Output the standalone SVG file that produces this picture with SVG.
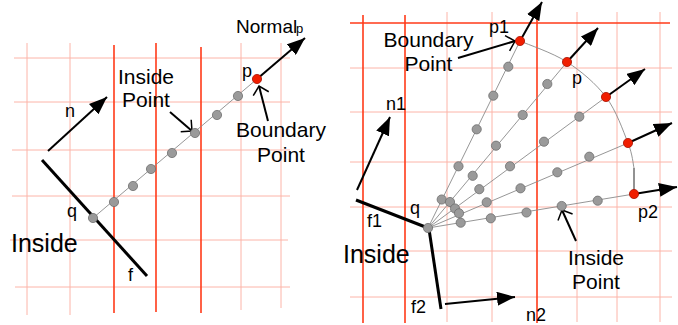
<svg xmlns="http://www.w3.org/2000/svg" width="678" height="325" viewBox="0 0 678 325">
<style>
.thin{stroke:#fcb4a8;stroke-width:1;fill:none}
.thick{stroke:#ff3b1a;stroke-width:1.6;fill:none}
.ray{stroke:#8a8a8a;stroke-width:0.9;fill:none}
.dot{fill:#9a9a9a;stroke:#6e6e6e;stroke-width:0.8}
.bp{fill:#f01e00;stroke:#a81000;stroke-width:0.8}
.arr{stroke:#000;stroke-width:2;fill:none;marker-end:url(#ah)}
.ptr{stroke:#000;stroke-width:2;fill:none;marker-end:url(#oh)}
.face{stroke:#000;stroke-width:3;fill:none}
text{font-family:"Liberation Sans",Arial,sans-serif;fill:#000}
.lb{font-size:21px}
.sm{font-size:18px}
.big{font-size:25px}
</style>
<defs>
<marker id="ah" markerUnits="userSpaceOnUse" markerWidth="20" markerHeight="14" refX="18" refY="7" orient="auto" viewBox="0 0 20 14"><path d="M0,0 L18,7 L0,14 z" fill="#000"/></marker>
<marker id="oh" markerUnits="userSpaceOnUse" markerWidth="12" markerHeight="18" refX="9" refY="9" orient="auto" viewBox="0 0 12 18" overflow="visible"><path d="M1,1 L9,9 L1,17" fill="none" stroke="#000" stroke-width="1.5"/></marker>
</defs>
<rect width="678" height="325" fill="#fff"/>
<g id="grid-left">
<path class="thin" d="M14,58H290M14,102H290M12,150H290M12,196H290M10,240H288M15,287H290"/>
<path class="thin" d="M27,43V315M70,43V315M241,43V310M281,43V308"/>
<path class="thick" d="M114,45V313M156,43V312M201,47V313"/>
</g>
<g id="grid-right">
<path class="thin" d="M350,68H672M350,112H672M350,162H672M350,207H672M350,251H672M350,297H672"/>
<path class="thin" d="M447,12V322M492,12V322M577,12V322M617,12V322M660,12V322"/>
<path class="thick" d="M350,23H670M363,15V323M405,15V323M537,15V323"/>
</g>
<g id="connectors">
<path class="ray" d="M93,218L257,79"/>
<path class="ray" d="M428,228L520,41M428,228L567,62M428,228L606,97M428,228L628,143M428,228L634,194"/>
<path class="ray" d="M520,41C527.8,44.5 552.7,52.7 567,62C581.3,71.3 595.8,83.5 606,97C616.2,110.5 623.3,131.2 628,143C632.7,154.8 633,163.8 634,168"/>
<path d="M634,168V190" stroke="#777" stroke-width="1.6" fill="none"/>
<path class="arr" d="M48,151L107,97"/>
<path class="arr" d="M257,79L305,38"/>
<path class="arr" d="M357,190L390,117"/>
<path class="arr" d="M445,304L515,297"/>
<path class="arr" d="M520,41L542,2"/>
<path class="arr" d="M567,62L598,28"/>
<path class="arr" d="M606,97L645,69"/>
<path class="arr" d="M628,143L672,123"/>
<path class="arr" d="M634,194L677,187"/>
<path class="ptr" d="M170,112L192,131"/>
<path class="ptr" d="M268,121L259,86"/>
<path class="ptr" d="M458,58L515,41"/>
<path class="ptr" d="M576,241L562,210"/>
</g>
<g id="face-f"><path class="face" d="M42,160L147,276"/></g>
<g id="face-f1"><path class="face" d="M356,200L428,228"/></g>
<g id="face-f2"><path class="face" d="M429,229L441,309"/></g>
<g id="points-left">
<circle class="dot" cx="93" cy="218" r="4.6"/>
<circle class="dot" cx="114" cy="202" r="4.6"/>
<circle class="dot" cx="133" cy="186" r="4.6"/>
<circle class="dot" cx="151" cy="169" r="4.6"/>
<circle class="dot" cx="172" cy="153" r="4.6"/>
<circle class="dot" cx="195" cy="133" r="4.6"/>
<circle class="dot" cx="217" cy="115" r="4.6"/>
<circle class="dot" cx="238" cy="96" r="4.6"/>
<circle class="bp" cx="257" cy="79" r="4.6"/>
</g>
<g id="points-right">
<circle class="dot" cx="428" cy="228" r="4.6"/>
<circle class="dot" cx="441.7" cy="199.5" r="4.6"/>
<circle class="dot" cx="458.5" cy="166.3" r="4.6"/>
<circle class="dot" cx="476.7" cy="129.3" r="4.6"/>
<circle class="dot" cx="493.3" cy="95.7" r="4.6"/>
<circle class="dot" cx="508.3" cy="66.7" r="4.6"/>
<circle class="dot" cx="450" cy="202" r="4.6"/>
<circle class="dot" cx="472.7" cy="175.8" r="4.6"/>
<circle class="dot" cx="496" cy="145.7" r="4.6"/>
<circle class="dot" cx="522.7" cy="115" r="4.6"/>
<circle class="dot" cx="547.3" cy="84" r="4.6"/>
<circle class="dot" cx="455" cy="208.5" r="4.6"/>
<circle class="dot" cx="479.3" cy="189.2" r="4.6"/>
<circle class="dot" cx="510" cy="166.3" r="4.6"/>
<circle class="dot" cx="544" cy="141.7" r="4.6"/>
<circle class="dot" cx="579.3" cy="116.7" r="4.6"/>
<circle class="dot" cx="459" cy="213.3" r="4.6"/>
<circle class="dot" cx="486.7" cy="202.3" r="4.6"/>
<circle class="dot" cx="520.5" cy="188.3" r="4.6"/>
<circle class="dot" cx="557.3" cy="172.3" r="4.6"/>
<circle class="dot" cx="589.3" cy="156.7" r="4.6"/>
<circle class="dot" cx="460.7" cy="222.7" r="4.6"/>
<circle class="dot" cx="490.8" cy="218.3" r="4.6"/>
<circle class="dot" cx="526.5" cy="212.5" r="4.6"/>
<circle class="dot" cx="561.7" cy="206" r="4.6"/>
<circle class="dot" cx="597.7" cy="200.7" r="4.6"/>
<circle class="bp" cx="520" cy="41" r="4.6"/>
<circle class="bp" cx="567" cy="62" r="4.6"/>
<circle class="bp" cx="606" cy="97" r="4.6"/>
<circle class="bp" cx="628" cy="143" r="4.6"/>
<circle class="bp" cx="634" cy="194" r="4.6"/>
</g>
<g id="labels-left">
<text x="236" y="33" style="font-size:19px">Normal</text>
<text x="296" y="33" style="font-size:13px">p</text>
<text class="sm" x="242" y="77">p</text>
<text class="lb" x="146" y="83.5" text-anchor="middle">Inside</text>
<text class="lb" x="146" y="107" text-anchor="middle">Point</text>
<text class="lb" x="281" y="137" text-anchor="middle">Boundary</text>
<text class="lb" x="281" y="162" text-anchor="middle">Point</text>
<text class="sm" x="65" y="117">n</text>
<text class="sm" x="67" y="217">q</text>
<text class="big" x="11" y="252">Inside</text>
<text class="sm" x="128" y="281">f</text>
</g>
<g id="labels-right">
<text class="sm" x="489" y="33">p1</text>
<text class="sm" x="572" y="84">p</text>
<text class="sm" x="638" y="218">p2</text>
<text class="lb" x="428.5" y="46.5" text-anchor="middle">Boundary</text>
<text class="lb" x="428.5" y="71" text-anchor="middle">Point</text>
<text class="sm" x="386" y="110">n1</text>
<text class="sm" x="410" y="214">q</text>
<text class="sm" x="367" y="227">f1</text>
<text class="big" x="343" y="263">Inside</text>
<text class="sm" x="411" y="313">f2</text>
<text class="sm" x="526" y="321">n2</text>
<text class="lb" x="596" y="265" text-anchor="middle">Inside</text>
<text class="lb" x="596" y="289" text-anchor="middle">Point</text>
</g>
</svg>
